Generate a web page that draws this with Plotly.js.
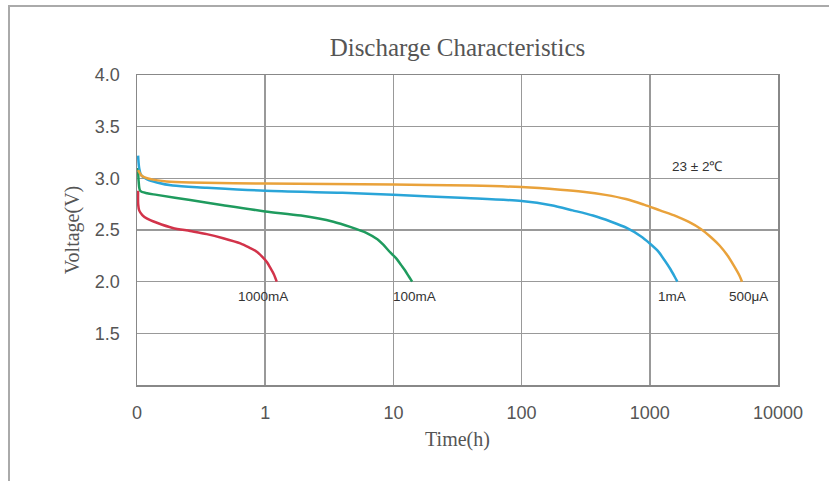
<!DOCTYPE html>
<html>
<head>
<meta charset="utf-8">
<script src="https://cdn.plot.ly/plotly-3.0.1.min.js"></script>
<style>
  html, body { margin: 0; padding: 0; background: #fff; }
  #frame { position: absolute; left: 8px; top: 5px; width: 830px; height: 490px;
           border-left: 2px solid #aaa; border-top: 2px solid #aaa; pointer-events: none; }
  #chart { position: absolute; left: 0; top: 0; width: 829px; height: 481px; }
</style>
</head>
<body>
<div id="chart"></div>
<div id="frame"></div>
<script>
// Time (h) and voltage (V) per discharge current
const t1000mA = [0.102, 0.1021, 0.104, 0.11, 0.12, 0.143, 0.19, 0.26, 0.35, 0.47, 0.64, 0.75, 0.86, 0.95, 1.03, 1.1, 1.17, 1.23];
const v1000mA = [2.88, 2.75, 2.69, 2.645, 2.61, 2.57, 2.52, 2.49, 2.46, 2.42, 2.37, 2.33, 2.29, 2.24, 2.19, 2.13, 2.07, 2.0];

const t100mA = [0.102, 0.103, 0.106, 0.12, 0.143, 0.26, 0.47, 1.0, 1.9, 3.4, 4.6, 6.2, 7.5, 8.3, 9.5, 10.6, 11.5, 12.3, 13.2, 14.0];
const v100mA = [3.10, 2.97, 2.88, 2.855, 2.84, 2.79, 2.74, 2.68, 2.64, 2.58, 2.53, 2.47, 2.41, 2.36, 2.28, 2.22, 2.16, 2.11, 2.05, 2.0];

const t1mA = [0.102, 0.104, 0.108, 0.12, 0.143, 0.19, 0.35, 1.0, 4, 10, 37, 100, 170, 250, 360, 500, 660, 850, 1000, 1150, 1300, 1450, 1560, 1640];
const v1mA = [3.22, 3.10, 3.03, 2.99, 2.96, 2.93, 2.91, 2.88, 2.86, 2.84, 2.81, 2.78, 2.74, 2.69, 2.64, 2.58, 2.52, 2.44, 2.37, 2.30, 2.21, 2.12, 2.05, 2.0];

const t500uA = [0.102, 0.11, 0.13, 0.17, 0.26, 1.0, 10, 40, 100, 200, 300, 450, 650, 900, 1200, 1600, 2000, 2500, 3000, 3500, 4000, 4500, 5000, 5240];
const v500uA = [3.08, 3.02, 2.99, 2.97, 2.96, 2.95, 2.94, 2.93, 2.915, 2.89, 2.87, 2.84, 2.80, 2.745, 2.69, 2.635, 2.58, 2.51, 2.43, 2.35, 2.26, 2.16, 2.06, 2.0];

const xTickVals = [0.1, 1, 10, 100, 1000, 10000];
const xTickText = ["0", "1", "10", "100", "1000", "10000"];
const yTickVals = [1.5, 2.0, 2.5, 3.0, 3.5, 4.0];
const yTickText = ["1.5", "2.0", "2.5", "3.0", "3.5", "4.0"];

const labelText = ["1000mA", "100mA", "1mA", "500μA", "23 ± 2℃"];
const labelX = [0.96, 14.7, 1490, 5840, 2335];
const labelY = [1.86, 1.86, 1.86, 1.86, 3.11];

const seriesNames = ["1000mA", "100mA", "1mA", "500μA"];
const seriesT = [t1000mA, t100mA, t1mA, t500uA];
const seriesV = [v1000mA, v100mA, v1mA, v500uA];
const colors = ["#d2334a", "#1f9b5e", "#2aa5d8", "#e9a23b"];

const traces = seriesNames.map((n, i) => ({
  type: "scatter", mode: "lines", name: n,
  x: seriesT[i], y: seriesV[i],
  line: { color: colors[i], width: 2.5, shape: "spline", smoothing: 0.8 },
  hoverinfo: "skip"
}));

const annotations = labelText.map((txt, i) => ({
  text: txt, x: Math.log10(labelX[i]), y: labelY[i], xref: "x", yref: "y",
  showarrow: false, xanchor: "center", yanchor: "middle",
  font: { family: "Liberation Sans, Arial, sans-serif", size: 13.5, color: "#333" }
}));

const layout = {
  width: 829, height: 481,
  margin: { l: 137, r: 51, t: 75, b: 96 },
  paper_bgcolor: "#fff", plot_bgcolor: "#fff",
  showlegend: false,
  title: {
    text: "Discharge Characteristics",
    x: 0.5, xref: "paper", y: 1 - 47 / 481, yref: "container", yanchor: "middle",
    font: { family: "Liberation Serif, Times New Roman, serif", size: 25, color: "#555" }
  },
  xaxis: {
    type: "log", range: [-1, 4],
    tickvals: xTickVals, ticktext: xTickText,
    showgrid: true, gridcolor: "#999", gridwidth: 1.5,
    showline: true, linecolor: "#888", linewidth: 1.5, mirror: true,
    ticks: "", zeroline: false, ticklabelstandoff: 11,
    tickfont: { family: "Liberation Sans, Arial, sans-serif", size: 18, color: "#555" },
    title: { text: "Time(h)", standoff: 10,
      font: { family: "Liberation Serif, Times New Roman, serif", size: 20, color: "#555" } }
  },
  yaxis: {
    range: [1, 4],
    tickvals: yTickVals, ticktext: yTickText,
    showgrid: true, gridcolor: "#999", gridwidth: 1.5,
    showline: true, linecolor: "#888", linewidth: 1.5, mirror: true,
    ticks: "", zeroline: false, ticklabelstandoff: 12,
    tickfont: { family: "Liberation Sans, Arial, sans-serif", size: 18, color: "#555" },
    title: { text: "Voltage(V)", standoff: 10,
      font: { family: "Liberation Serif, Times New Roman, serif", size: 20, color: "#555" } }
  },
  annotations: annotations
};

Plotly.newPlot("chart", traces, layout, { displayModeBar: false, staticPlot: true });
</script>
</body>
</html>
